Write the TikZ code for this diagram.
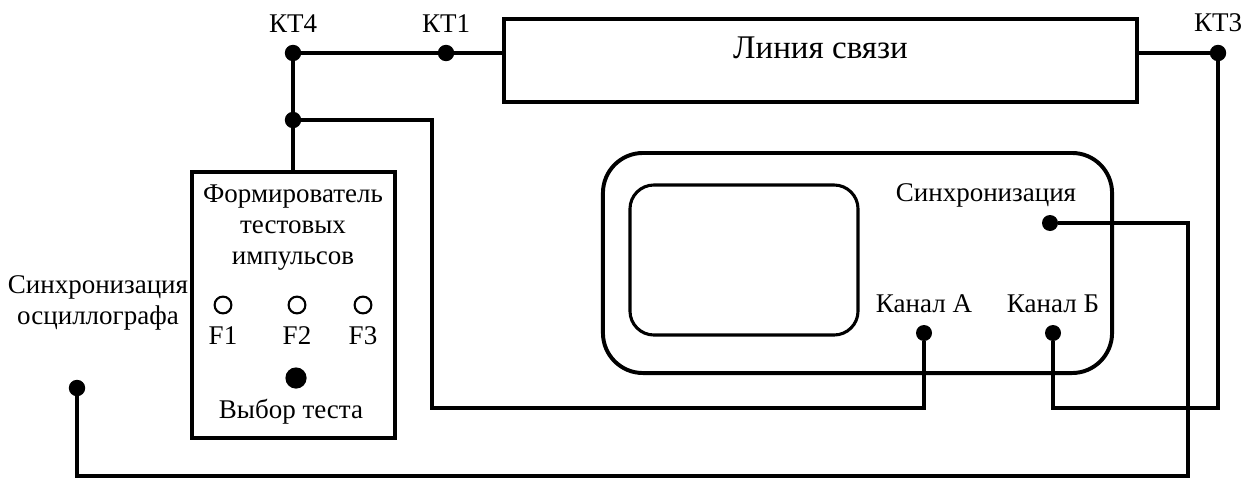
\documentclass[tikz,border=0pt]{standalone}
\usepackage{fontspec}
\setmainfont{Liberation Serif}
\usepackage{tikz}
\usetikzlibrary{positioning}

\begin{document}
\begin{tikzpicture}[x=0.025cm, y=-0.025cm,
		wire/.style={line width=2.8pt},
		box/.style={draw, line width=2.8pt, inner sep=0pt},
		dot/.style={circle, fill, inner sep=0pt, minimum size=0.41cm},
		led/.style={circle, draw, line width=1.5pt, inner sep=0pt, minimum size=0.42cm},
		txt/.style={font=\fontsize{19.2}{22}\selectfont, inner sep=0pt, align=center}]
				\useasboundingbox (0,0) rectangle (1242,480);
				
				\node[dot] (kt4) at (293,53) {};
				\node[dot] (kt1) at (446,53) {};
				\node[dot] (kt3) at (1218,53) {};
				\node[dot] (jn) at (293,120) {};
				\node[txt, above=0.3cm of kt4] {КТ4};
				\node[txt, above=0.3cm of kt1] {КТ1};
				\node[txt, above=0.3cm of kt3] {КТ3};
				
				\node[box, minimum width=15.825cm, text height=1cm, text depth=1.075cm, anchor=north west,
					font=\fontsize{23.5}{26}\selectfont] (line) at (502,17) {Линия связи};
				
				\node[box, minimum width=5.075cm, minimum height=6.65cm] (gen) at (293.5,305) {};
				\node[txt] at (293,228) {Формирователь\\тестовых\\импульсов};
				\foreach \i/\xx in {1/223, 2/297, 3/363} {
					\node[led] (f\i) at (\xx,305) {};
					\node[txt, below=0.3cm of f\i] {F\i};
				}
				\node[dot, minimum size=0.53cm] (sel) at (296,378) {};
				\node[txt] at (291,412) {Выбор теста};
				
				\node[txt] at (98,303) {Синхронизация\\осциллографа};
				\node[dot] (lsync) at (77,388) {};
				
				\node[box, rounded corners=1cm, minimum width=12.725cm, minimum height=5.5cm] (osc) at (857.5,263) {};
				\node[box, line width=2.2pt, rounded corners=0.6cm, minimum width=5.7cm, minimum height=3.75cm] (scr) at (744,260) {};
				\node[txt] at (986,195) {Синхронизация};
				\node[dot, minimum size=0.4cm] (osync) at (1050,223) {};
				\node[dot, minimum size=0.4cm] (cha) at (924,333) {};
				\node[dot, minimum size=0.4cm] (chb) at (1053,333) {};
				\node[txt, above=0.3cm of cha] {Канал А};
				\node[txt, above=0.3cm of chb] {Канал Б};
				
				\coordinate (ca) at (432,408);
				\coordinate (sb) at (1188,476);
				
				\draw[wire] (kt4) -- (kt1) -- (kt1 -| line.west);
				\draw[wire] (line.east |- kt3) -- (kt3);
				\draw[wire] (kt4) -- (kt4 |- gen.north);
				\draw[wire] (jn) -| (ca) -| (cha);
				\draw[wire] (chb) |- (kt3 |- ca) -- (kt3);
				\draw[wire] (lsync) |- (sb) |- (osync);
			\end{tikzpicture}
\end{document}
